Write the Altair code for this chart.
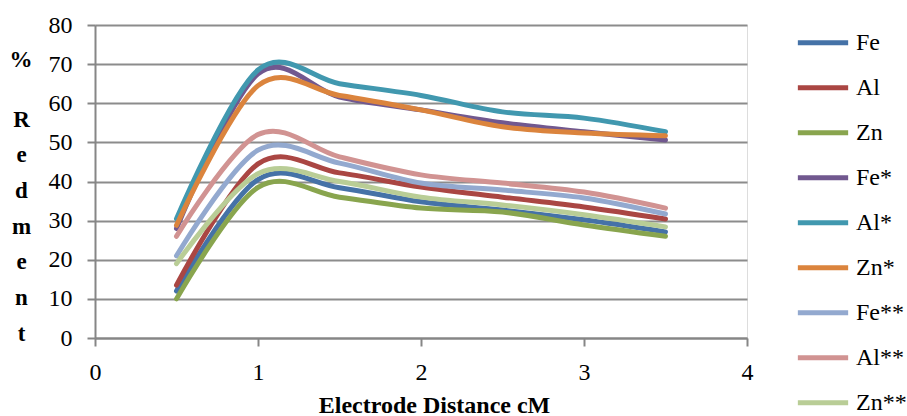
import altair as alt
import pandas as pd

distance = [0.5, 1, 1.5, 2, 2.5, 3, 3.5]
series_names = ["Fe", "Al", "Zn", "Fe*", "Al*", "Zn*", "Fe**", "Al**", "Zn**"]
fe = [12, 40.5, 38.4, 34.8, 32.7, 30.2, 27.1]
al = [13.5, 44.5, 42.2, 38.6, 36, 33.5, 30.4]
zn = [10, 38.5, 36, 33.2, 32.2, 28.9, 26]
fe_s = [28, 67.5, 61.6, 58.3, 55, 52.7, 50.6]
al_s = [30.5, 68.5, 65, 62, 57.8, 56.2, 52.7]
zn_s = [28.8, 64.5, 62, 58.3, 54, 52.4, 51.7]
fe_ss = [21, 48, 44.7, 39.6, 37.8, 35.8, 31.7]
al_ss = [26, 52, 46.3, 41.7, 39.6, 37.3, 33.2]
zn_ss = [19, 42, 40, 36, 34, 31.5, 28.4]
colors = ["#4572A7", "#AA4643", "#89A54E", "#71588F", "#4198AF",
          "#DB843D", "#93A9CF", "#D19392", "#B9CD96"]

all_values = [fe, al, zn, fe_s, al_s, zn_s, fe_ss, al_ss, zn_ss]
rows = []
for name, vals in zip(series_names, all_values):
    for xv, yv in zip(distance, vals):
        rows.append({"series": name, "x": xv, "y": yv})
df = pd.DataFrame(rows)

FONT = "'Liberation Serif', 'Times New Roman', Times, serif"

lines = alt.Chart(df).mark_line(
    interpolate="cardinal", tension=0, strokeWidth=5, strokeCap="round", strokeJoin="round"
).encode(
    x=alt.X("x:Q", scale=alt.Scale(domain=[0, 4], nice=False, zero=False),
            axis=alt.Axis(values=[0, 1, 2, 3, 4], grid=False, title="Electrode Distance cM",
                          titleFont=FONT, titleFontSize=24, titleFontWeight="bold",
                          titleColor="black", titleX=339, titleY=74,
                          titleBaseline="alphabetic", titleAlign="center",
                          labelFont=FONT, labelFontSize=24, labelColor="black",
                          labelFlush=False, labelPadding=14, tickSize=8,
                          tickColor="#868686", tickWidth=2,
                          domainColor="#868686", domainWidth=2)),
    y=alt.Y("y:Q", scale=alt.Scale(domain=[0, 80], nice=False),
            axis=alt.Axis(values=list(range(0, 81, 10)), grid=True,
                          gridColor="#8c8c8c", gridWidth=2,
                          title=["R", "e", "d", "m", "e", "n", "t"],
                          titleAngle=0, titleFont=FONT, titleFontSize=23,
                          titleFontWeight="bold", titleColor="black",
                          titleLineHeight=35.7, titleX=-74, titleY=101,
                          titleAlign="center", titleBaseline="alphabetic",
                          labelFont=FONT, labelFontSize=24, labelColor="black",
                          labelFlush=False, labelPadding=15, tickSize=8,
                          tickColor="#868686", tickWidth=2,
                          domainColor="#868686", domainWidth=2)),
    color=alt.Color("series:N", sort=series_names,
                    scale=alt.Scale(domain=series_names, range=colors),
                    legend=alt.Legend(title=None, orient="none", legendX=700, legendY=-4.6,
                                      symbolType="stroke", symbolSize=2530,
                                      symbolStrokeWidth=5, clipHeight=44.8, rowPadding=0,
                                      padding=0, labelOffset=5, labelFont=FONT,
                                      labelFontSize=24, labelColor="black")),
    detail="series:N",
)

pct = alt.Chart(pd.DataFrame({"t": ["%"]})).mark_text(
    font=FONT, fontSize=23, fontWeight="bold", color="black", baseline="middle", align="center"
).encode(text="t:N", x=alt.value(-74), y=alt.value(35))

chart = alt.layer(lines, pct).properties(
    width=652, height=313,
    autosize=alt.AutoSizeParams(type="none"),
    padding={"left": 95, "top": 25, "right": 160, "bottom": 78},
).configure_view(stroke=None).configure(background="white")

chart.save("out.html", embed_options={"renderer": "svg", "actions": False})
